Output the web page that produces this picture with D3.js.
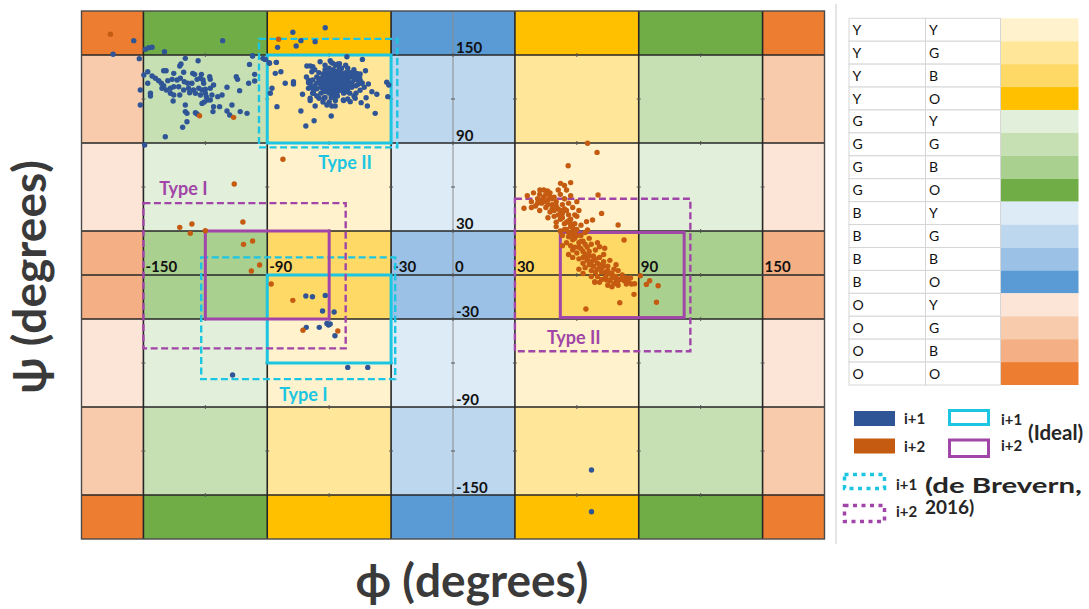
<!DOCTYPE html>
<html>
<head>
<meta charset="utf-8">
<script src="https://cdn.jsdelivr.net/npm/d3@7"></script>
<style>
  body { margin: 0; background: #fff; }
  svg { display: block; font-family: Lato, "Open Sans", "DejaVu Sans", sans-serif; }
</style>
</head>
<body>
<svg id="chart" width="1089" height="609"></svg>
<script>
// ---------- data ----------
// angular region boundaries (degrees) and the class of each interval
const angleBreaks = [-180, -150, -90, -30, 30, 90, 150, 180];
const intervalClass = ["O", "G", "Y", "B", "Y", "G", "O"];
const gridLines = [-150, -90, -30, 0, 30, 90, 150];
const xTickValues = [-150, -90, -30, 0, 30, 90, 150];
const yTickValues = [150, 90, 30, -30, -90, -150];
const minorTickValues = [-120, -60, 0, 60, 120];

// colour key: phi class, psi class, fill
const keyPhi = ["Y","Y","Y","Y","G","G","G","G","B","B","B","B","O","O","O","O"];
const keyPsi = ["Y","G","B","O","Y","G","B","O","Y","G","B","O","Y","G","B","O"];
const keyColors = ["#FFF2CC","#FFE699","#FFD966","#FFC000",
                   "#E2EFDA","#C6E0B4","#A9D08E","#70AD47",
                   "#DDEBF7","#BDD7EE","#9BC2E6","#5B9BD5",
                   "#FCE4D6","#F8CBAD","#F4B084","#ED7D31"];

// residue i+1 (phi, psi)
const residueI1 = [
  [-154.7,159.8],[-164.7,150.5],[-149,153.9],[-147.4,155],[-145.8,155.3],[-139.8,152.3],[-111.6,159.8],[-152,147.5],
  [-77.6,165.5],[-61.9,168.6],[-73.7,159.8],[-66.8,159.1],[-85,155.2],[-76,156.1],
  [-97.1,149.5],[-92.1,147.7],[-89,144.8],[-85.6,145],[-149.4,88.6],
  [-129.7,147.7],[-123.5,146.1],[-131.8,143.9],[-132.4,142.5],[-98.6,143.6],[-97.1,149.3],[-91,147],
  [-147.9,138.6],[-149.8,136.4],[-140.2,139.3],[-139,139.3],[-135.3,137.5],[-130.5,138.2],[-126.1,137.5],
  [-125.2,136.8],[-121.9,136.8],[-105,135.2],[-104.4,133.4],[-96.1,136.8],[-145.8,135.7],[-144.2,134.1],
  [-142.6,132.5],[-141.3,130.7],[-140.2,129.1],[-138.2,132.5],[-136.1,133.4],[-133.7,133],[-132.1,134.1],
  [-130.2,131.8],[-128.5,130.7],[-126.5,130.7],[-124,133.4],[-122.4,134.1],[-121.1,133],[-117.9,135.2],
  [-117.6,133.4],[-147.9,130.7],[-99,130.7],[-96.1,132.3],[-120.8,130.7],[-141,127.3],[-138.9,126.1],
  [-136.9,127.3],[-135.3,128.4],[-132.9,128.4],[-130.5,126.1],[-128.1,127.3],[-125.7,126.1],[-123.2,127.3],
  [-121.6,126.1],[-120,126.6],[-117.6,127.3],[-116,129.5],[-109.5,128],[-146.6,123.9],[-146.6,122],
  [-136.9,123.9],[-135.3,122.7],[-132.4,122.7],[-127.6,124.3],[-124.8,123.9],[-122.4,122.7],[-120,123.9],
  [-119.5,121.6],[-116.8,122.7],[-114,121.6],[-111.9,122.7],[-103.4,125.7],[-135.6,118.6],[-121.6,117],
  [-120.5,118],[-118.9,119.3],[-117.6,119.3],[-151.5,126.1],[-151.5,115.9],[-129.7,115.9],[-116,114.8],
  [-113.1,114.8],[-107.1,115.9],[-129.7,111.4],[-128.9,110.2],[-124.8,110.7],[-124,109.8],[-116.3,111.4],
  [-109.5,111.8],[-108.2,109.1],[-103.1,111.4],[-99.8,110.2],[-128.9,104.5],[-131,100.7],[-139.4,94.3],
  [-91,147],[-88.9,144.3],[-85.6,145],[-86.1,137.5],[-83.4,138.6],[-81.3,130.7],[-77.3,131.8],[-77.3,130.2],
  [-87.7,127.3],[-88.5,123.9],[-85.3,114.8],[-73.7,111.8],[-72.9,123.2],[-69.2,120.5],[-69.2,118.9],
  [-67.6,123.9],[-66.8,115.2],[-67.3,105.2],[-71.3,101.6],[-59,108.4],[-61.1,115.9],[-58.7,115.2],[-57.1,115.2],
  [-51.4,148.8],[-43.9,147],[-42.4,139.3],[-41,130.2],[-39.3,125],[-36.9,123.2],[-32.1,131.4],[-31.1,129.5],
  [-31.6,121.6],[-37.7,110.2],[-42.1,120.9],[-41.5,115.2],[-44.5,117.5],[-46.6,137.5],[-45.3,135.2],
  [-44.2,130.7],[-70.8,142.5],[-69.2,142.5],[-67.9,142],[-68.4,138.6],[-64.4,145.4],[-59.5,146.1],
  [-58.2,144.3],[-56,143.7],[-70,132.9],[-69.2,130.7],[-70,127.3],[-67.6,126.1],[-64.9,120.5],[-62.5,120.5],
  [-53.1,119.3],[-49.8,118.2],[-47.4,120.5],
  [-57,131],[-55,133],[-59,129],[-53,130],[-61,132],[-56,127],[-58,135],[-52,134],[-60,126],[-54,128],
  [-62,129],[-50,131],[-57,138],[-63,135],[-51,127],[-55,136],[-59,124],[-48,133],[-65,131],[-53,124],
  [-58,140],[-61,137],[-49,128],[-66,127],[-56,122],[-52,138],[-64,124],[-47,136],[-60,141],[-54,141],
  [-50,124],[-62,121],[-46,130],[-68,133],[-57,119],[-51,141],[-65,138],[-48,122],[-67,129],[-55,144],
  [-59,133],[-56,130],[-54,132],[-58,127],[-53,136],[-60,130],[-57,134],[-55,126],[-52,129],[-61,134],
  [-63,127],[-50,135],[-49,138],[-64,133],[-58,122],[-62,140],[-53,119],[-45,126],[-70,131],[-68,124],
  [-46,133],[-57,143],[-60,118],[-51,120],[-66,135],[-44,131],[-69,128],[-59,145],[-48,140],[-63,118],
  [-55,139],[-52,125],[-57,125],[-60,135],[-54,135],[-56,136],[-58,131],[-53,127],[-61,126],[-55,130],
  [-50,138],[-64,130],[-47,124],[-66,122],[-45,137],[-62,143],[-52,143],[-67,140],[-43,128],[-71,135],
  [-56,132],[-54,129],[-58,128],[-57,136],[-55,134],[-53,133],[-59,131],[-60,128],[-52,131],[-56,125],
  [-61,130],[-58,137],[-54,138],[-57,129],[-55,128],[-59,136],[-62,133],[-53,135],[-51,133],[-56,139],
  [-60,124],[-64,128],[-50,129],[-63,137],[-49,131],[-58,133],[-54,126],[-57,123],[-65,134],[-47,129],
  [-52,136],[-60,138],[-55,141],[-62,125],[-48,135],[-66,131],[-51,125],[-59,121],[-63,131],[-45,133],
  [-71.3,-14.3],[-68.1,-14.8],[-61.9,-13.9],[-63.2,-24.5],[-57.6,-25.2],[-61.1,-33],[-60.3,-34.1],
  [-59.5,-33.4],[-71.1,-35.7],[-64.8,-35.7],[-57.2,-41.4],[-51,-63],[-41.3,-63],[-106.8,-68.2],
  [67.1,-133],[67.1,-161.4]
];

// residue i+2 (phi, psi)
const residueI2 = [
  [-166,164.1],[-84.5,160.7],[-122.8,108.6],[-106.3,107.5],[-82.4,78.9],[-106,62],[-132.4,32.5],
  [-126.5,34.8],[-127.3,28.4],[-120,30.2],[-101.8,36.1],[-101.5,20.9],[-97.1,23.2],[-93.7,6.8],
  [-97.7,2.7],[-88.1,-6.1],[-77.6,-17.3],[-72.7,-37.7],[-55.8,-38.2],
  [65.2,89.8],[69.8,83.6],[55.8,74.5],[52.1,62.5],[42.1,58],[45.8,57.3],[34.4,45.5],[70.3,54.5],
  [80,34.1],[82.9,23.9],[90.8,-0.5],[93.7,-6.4],[95.3,-3.9],[99.4,-7.3],[98.6,-18.6],[87.7,-13.2],
  [80.8,-18.9],[84,-6.1],[86.5,-6.1],[64.4,-23.2],[68.7,-5],[72,42],[67.6,37.5],[64.7,36.4],[65.2,30.7],
  [36,54],[38,50],[39,56],[41,52],[40,47],[42,55],[43,49],[44,53],[45,46],[46,51],[47,56],[44,58],
  [48,48],[49,53],[47,43],[50,50],[51,45],[52,55],[49,40],[53,48],[54,52],[55,44],[52,38],[56,49],
  [57,54],[55,58],[58,46],[53,42],[50,36],[48,45],[59,41],[57,38],[46,39],[60,50],[61,44],[42,44],
  [38,46],[54,61],[57,63],[51,58],
  [50,33],[52,30],[54,35],[53,27],[55,31],[56,26],[57,33],[58,29],[55,22],[57,20],[59,25],[60,31],
  [61,22],[62,27],[58,17],[60,15],[62,18],[63,23],[64,14],[65,19],[61,11],[63,8],[65,12],[66,16],
  [67,21],[68,10],[64,5],[66,7],[68,13],[69,17],[70,8],[71,12],[67,3],[69,2],[72,5],[73,9],[70,-1],
  [74,2],[75,6],[76,10],[72,-3],[74,-2],[77,1],[78,4],[76,-4],[79,-1],[80,3],[81,-3],[78,-6],[82,0],
  [83,-4],[80,-7],[84,-2],[85,-5],[56,37],[59,35],[62,34],[66,25],[70,22],[64,29],[60,40],[58,12],
  [73,14],[77,-8],[71,-5],[53,20],[56,14],[61,4],[63,1],[86,-2],[88,-6],[75,-7],[79,7],[67,-1],
  [71,19.3],[73.5,18.2],[68.7,-4.5],[74.4,-3.4],[79.2,-3.4],
  [44,50],[46,48],[48,52],[50,47],[52,44],[51,41],[53,39],[54,45],[56,41],[55,36],[57,35],[58,32],
  [59,28],[56,29],[54,31],[58,24],[60,27],[61,19],[62,23],[63,16],[64,21],[65,10],[66,13],[67,9],
  [68,6],[69,11],[70,4],[71,7],[72,2],[73,6],[74,-1],[75,3],[76,1],[77,-2],[78,-1],[80,-4],[82,-2],
  [63,12],[59,19],[57,27],[47,53],[45,55],[43,51],[41,49],[49,44]
];

// turn regions: phi range, psi range, residue, source
const turnRegions = [
  { phi: [-90, -30],  psi: [90, 150],  residue: "i+1", ideal: true  },
  { phi: [-94, -27],  psi: [87, 161],  residue: "i+1", ideal: false },
  { phi: [-90, -30],  psi: [-60, 0],   residue: "i+1", ideal: true  },
  { phi: [-122, -28], psi: [-71, 12],  residue: "i+1", ideal: false },
  { phi: [-120, -60], psi: [-30, 30],  residue: "i+2", ideal: true  },
  { phi: [-150, -52], psi: [-50, 49],  residue: "i+2", ideal: false },
  { phi: [52, 112],   psi: [-29, 29],  residue: "i+2", ideal: true  },
  { phi: [30, 115],   psi: [-52, 52],  residue: "i+2", ideal: false }
];
const turnNames = ["Type II", "Type I", "Type I", "Type II"];
const turnNameResidue = ["i+1", "i+1", "i+2", "i+2"];
const turnNameAnchor = [[-65.3, 72.3], [-84.2, -86], [-142.3, 54.5], [45.5, -47]];

// ---------- styles ----------
const dotColor = { "i+1": "#2F5597", "i+2": "#C55A11" };
const boxColor = { "i+1": "#1CC6E2", "i+2": "#A146A8" };
const dashPattern = "7,3.5";

const svg = d3.select("#chart");
const x = d3.scaleLinear().domain([-180, 180]).range([81.5, 824.5]);
const y = d3.scaleLinear().domain([-180, 180]).range([539, 11]);

const colorOf = {};
keyPhi.forEach((p, i) => { colorOf[p + keyPsi[i]] = keyColors[i]; });

// ---------- region cells ----------
const cells = [];
for (let i = 0; i < intervalClass.length; i++) {
  for (let j = 0; j < intervalClass.length; j++) {
    cells.push({
      phi0: angleBreaks[i], phi1: angleBreaks[i + 1],
      psi0: angleBreaks[j], psi1: angleBreaks[j + 1],
      code: intervalClass[i] + intervalClass[j]
    });
  }
}
svg.append("g").selectAll("rect").data(cells).join("rect")
  .attr("x", d => x(d.phi0))
  .attr("y", d => y(d.psi1))
  .attr("width", d => x(d.phi1) - x(d.phi0))
  .attr("height", d => y(d.psi0) - y(d.psi1))
  .attr("fill", d => colorOf[d.code]);

// ---------- grid ----------
const grid = svg.append("g");
grid.selectAll("line.v").data(gridLines).join("line")
  .attr("class", "v")
  .attr("x1", d => x(d)).attr("x2", d => x(d))
  .attr("y1", y(180)).attr("y2", y(-180))
  .attr("stroke", d => d === 0 ? "#8a8a8a" : "#262626")
  .attr("stroke-width", d => d === 0 ? 1 : 1.6);
grid.selectAll("line.h").data(gridLines).join("line")
  .attr("class", "h")
  .attr("y1", d => y(d)).attr("y2", d => y(d))
  .attr("x1", x(-180)).attr("x2", x(180))
  .attr("stroke", "#262626")
  .attr("stroke-width", 1.6);
// small marks along the grid lines
gridLines.forEach(g => {
  grid.selectAll(null).data(minorTickValues).join("line")
    .attr("x1", d => x(d)).attr("x2", d => x(d))
    .attr("y1", y(g) - 2).attr("y2", y(g) + 2)
    .attr("stroke", "#555").attr("stroke-width", 1);
  grid.selectAll(null).data(minorTickValues).join("line")
    .attr("y1", d => y(d)).attr("y2", d => y(d))
    .attr("x1", x(g) - 2).attr("x2", x(g) + 2)
    .attr("stroke", "#555").attr("stroke-width", 1);
});
svg.append("rect")
  .attr("x", x(-180)).attr("y", y(180))
  .attr("width", x(180) - x(-180)).attr("height", y(-180) - y(180))
  .attr("fill", "none").attr("stroke", "#4a4a4a").attr("stroke-width", 1.4);

// ---------- axes (tick labels on the zero lines) ----------
const plainInt = d => String(d);
const xAxis = svg.append("g")
  .attr("transform", `translate(0,${y(0)})`)
  .call(d3.axisBottom(x).tickValues(xTickValues).tickSize(0).tickFormat(plainInt));
xAxis.select(".domain").remove();
xAxis.selectAll("text")
  .attr("text-anchor", "start").attr("x", 1.5).attr("y", -3).attr("dy", null)
  .attr("font-family", "Lato, 'Open Sans', sans-serif")
  .attr("font-size", 15).attr("font-weight", 700).attr("fill", "#111");

const yAxis = svg.append("g")
  .attr("transform", `translate(${x(0)},0)`)
  .call(d3.axisLeft(y).tickValues(yTickValues).tickSize(0).tickFormat(plainInt));
yAxis.select(".domain").remove();
yAxis.selectAll("text")
  .attr("text-anchor", "start").attr("x", 3).attr("y", -3).attr("dy", null)
  .attr("font-family", "Lato, 'Open Sans', sans-serif")
  .attr("font-size", 15).attr("font-weight", 700).attr("fill", "#111");

// ---------- turn regions ----------
svg.append("g").selectAll("rect").data(turnRegions).join("rect")
  .attr("x", d => x(d.phi[0]))
  .attr("y", d => y(d.psi[1]))
  .attr("width", d => x(d.phi[1]) - x(d.phi[0]))
  .attr("height", d => y(d.psi[0]) - y(d.psi[1]))
  .attr("fill", "none")
  .attr("stroke", d => boxColor[d.residue])
  .attr("stroke-width", d => d.ideal ? 3 : 2.4)
  .attr("stroke-dasharray", d => d.ideal ? null : dashPattern);

// ---------- residue scatter ----------
const dots = svg.append("g");
dots.selectAll("circle.i1").data(residueI1).join("circle")
  .attr("class", "i1")
  .attr("cx", d => x(d[0])).attr("cy", d => y(d[1])).attr("r", 2.7)
  .attr("fill", dotColor["i+1"]);
dots.selectAll("circle.i2").data(residueI2).join("circle")
  .attr("class", "i2")
  .attr("cx", d => x(d[0])).attr("cy", d => y(d[1])).attr("r", 2.7)
  .attr("fill", dotColor["i+2"]);

// turn type names
svg.append("g").selectAll("text").data(turnNames).join("text")
  .attr("x", (d, i) => x(turnNameAnchor[i][0]))
  .attr("y", (d, i) => y(turnNameAnchor[i][1]))
  .attr("font-size", 18).attr("font-weight", 700)
  .attr("fill", (d, i) => boxColor[turnNameResidue[i]])
  .text(d => d);

// ---------- axis titles ----------
svg.append("text")
  .attr("x", 472).attr("y", 597)
  .attr("text-anchor", "middle")
  .attr("font-size", 46).attr("font-weight", 700).attr("fill", "#3a3a3a")
  .text("ϕ (degrees)");
svg.append("text")
  .attr("transform", "translate(46,277) rotate(-90)")
  .attr("text-anchor", "middle")
  .attr("font-size", 46).attr("font-weight", 700).attr("fill", "#3a3a3a")
  .text("ψ (degrees)");

// ---------- colour key table ----------
svg.append("line")
  .attr("x1", 836).attr("x2", 836).attr("y1", 4).attr("y2", 544)
  .attr("stroke", "#d4d4d4").attr("stroke-width", 1.2);

const rowBand = d3.scaleBand().domain(d3.range(keyColors.length)).range([18.3, 385]);
const colX = [849, 925.5, 1000.5, 1078.5];
const key = svg.append("g");
key.selectAll("rect.sw").data(keyColors).join("rect")
  .attr("class", "sw")
  .attr("x", colX[2]).attr("y", (d, i) => rowBand(i))
  .attr("width", colX[3] - colX[2]).attr("height", rowBand.bandwidth())
  .attr("fill", d => d);
key.selectAll("rect.c1").data(keyPhi).join("rect")
  .attr("class", "c1")
  .attr("x", colX[0]).attr("y", (d, i) => rowBand(i))
  .attr("width", colX[1] - colX[0]).attr("height", rowBand.bandwidth())
  .attr("fill", "#fff").attr("stroke", "#d6d6d6").attr("stroke-width", 1);
key.selectAll("rect.c2").data(keyPsi).join("rect")
  .attr("class", "c2")
  .attr("x", colX[1]).attr("y", (d, i) => rowBand(i))
  .attr("width", colX[2] - colX[1]).attr("height", rowBand.bandwidth())
  .attr("fill", "#fff").attr("stroke", "#d6d6d6").attr("stroke-width", 1);
key.selectAll("text.t1").data(keyPhi).join("text")
  .attr("class", "t1")
  .attr("x", colX[0] + 3.5).attr("y", (d, i) => rowBand(i) + rowBand.bandwidth() / 2 + 5)
  .attr("font-size", 14).attr("fill", "#111").text(d => d);
key.selectAll("text.t2").data(keyPsi).join("text")
  .attr("class", "t2")
  .attr("x", colX[1] + 3.5).attr("y", (d, i) => rowBand(i) + rowBand.bandwidth() / 2 + 5)
  .attr("font-size", 14).attr("fill", "#111").text(d => d);

// ---------- residue / region legend ----------
const lg = svg.append("g").attr("font-weight", 700).attr("fill", "#262626");
const residues = ["i+1", "i+2"];
lg.selectAll("rect.fill").data(residues).join("rect")
  .attr("class", "fill")
  .attr("x", 854).attr("y", (d, i) => 411 + i * 27.5)
  .attr("width", 41).attr("height", 15)
  .attr("fill", d => dotColor[d]);
lg.selectAll("text.fill").data(residues).join("text")
  .attr("class", "fill")
  .attr("x", 904).attr("y", (d, i) => 424 + i * 27.5)
  .attr("font-size", 15).text(d => d);
lg.selectAll("rect.ideal").data(residues).join("rect")
  .attr("class", "ideal")
  .attr("x", 949.5).attr("y", (d, i) => 410.5 + i * 29.5)
  .attr("width", 39).attr("height", (d, i) => 14 + i * 2.5)
  .attr("fill", "none").attr("stroke", d => boxColor[d]).attr("stroke-width", 3);
lg.selectAll("text.ideal").data(residues).join("text")
  .attr("class", "ideal")
  .attr("x", 1001).attr("y", (d, i) => 425 + i * 26)
  .attr("font-size", 15).text(d => d);
lg.append("text").attr("x", 1028).attr("y", 440).attr("font-size", 20.5).text("(Ideal)");
lg.selectAll("rect.lit").data(residues).join("rect")
  .attr("class", "lit")
  .attr("x", 844.5).attr("y", (d, i) => 474.5 + i * 31)
  .attr("width", 40).attr("height", (d, i) => 14 + i * 2)
  .attr("fill", "none").attr("stroke", d => boxColor[d]).attr("stroke-width", 3.5)
  .attr("stroke-dasharray", "4,4.5");
lg.selectAll("text.lit").data(residues).join("text")
  .attr("class", "lit")
  .attr("x", 896).attr("y", (d, i) => 490 + i * 27)
  .attr("font-size", 15).text(d => d);
lg.append("text").attr("x", 925).attr("y", 493).attr("font-size", 20)
  .attr("textLength", 157).attr("lengthAdjust", "spacingAndGlyphs").text("(de Brevern,");
lg.append("text").attr("x", 925).attr("y", 514).attr("font-size", 19).text("2016)");
</script>
</body>
</html>
